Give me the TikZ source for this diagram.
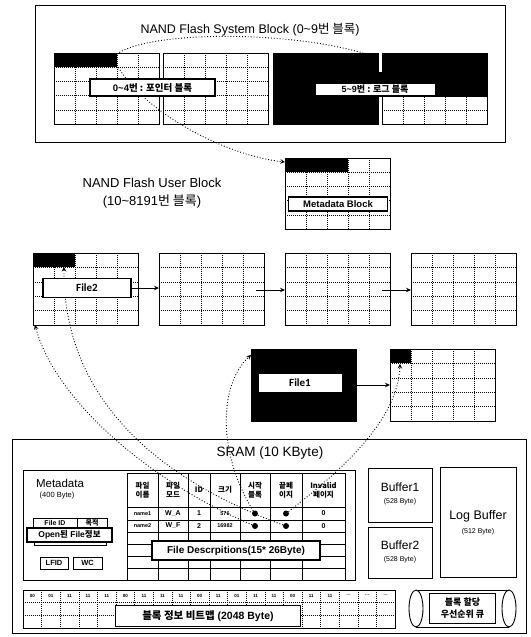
\documentclass[tikz,border=0pt]{standalone}
\usepackage{fontspec}
\setmainfont{Liberation Sans}
\newfontfamily\kr{Noto Sans CJK KR}
\newfontfamily\carfont{Carlito}
\usetikzlibrary{calc,arrows.meta}
\tikzset{
  blk/.style={draw, line width=0.9pt, fill=white, minimum width=105pt, minimum height=71pt, anchor=north west, inner sep=0pt, outer sep=0pt},
  gridl/.style={dash pattern=on 1pt off 1pt, line width=0.6pt},
  lab/.style={draw, line width=1.9pt, fill=white, font=\bfseries\fontsize{9.5}{11}\selectfont, inner sep=1pt, outer sep=0pt},
  thinlab/.style={draw, line width=0.7pt, fill=white, font=\bfseries\fontsize{9}{10}\selectfont, inner sep=1pt, outer sep=0pt},
  link/.style={dotted, line width=0.9pt, -{Stealth[length=4.5pt,width=4.5pt]}},
  flow/.style={line width=0.9pt, -{Stealth[length=5pt,width=4.5pt]}},
  box/.style={draw, line width=0.9pt, anchor=north west, inner sep=0pt, outer sep=0pt},
  dotn/.style={circle, fill=black, inner sep=0pt, minimum size=6pt},
  hd/.style={align=center, font=\kr\bfseries\fontsize{7.5}{8.5}\selectfont, inner sep=0pt},
  cell/.style={font=\bfseries\fontsize{5.5}{6}\selectfont, inner sep=0pt},
  cellb/.style={font=\bfseries\fontsize{7}{8}\selectfont, inner sep=0pt},
  bit/.style={font=\bfseries\fontsize{4.5}{5}\selectfont, inner sep=0pt},
  ttl/.style={font=\fontsize{12.5}{16}\selectfont, align=center},
}
\newcommand\gridlines[1]{%
  \foreach \i in {1,2,3,4}{%
    \draw[gridl] ($(#1.north west)!\i/5!(#1.north east)$) -- ($(#1.south west)!\i/5!(#1.south east)$);
    \draw[gridl] ($(#1.north west)!\i/5!(#1.south west)$) -- ($(#1.north east)!\i/5!(#1.south east)$);
  }}
\begin{document}
\begin{tikzpicture}[x=1pt,y=-1pt]
\useasboundingbox (0,0) rectangle (530,637);
\fill[white] (0,0) rectangle (530,637);

% ---------------- System block area
\node[box, minimum width=470pt, minimum height=137pt] (sysbox) at (35,5) {};
\node[ttl] (systitle) at (250,30) {NAND Flash System Block (0\textasciitilde 9{\kr 번 블록})};

\node[blk] (s1) at (54,53) {}; \gridlines{s1}
\fill (54,53) rectangle (117,67);
\node[blk] (s2) at (163,53) {}; \gridlines{s2}
\node[blk, fill=black] (s3) at (273,53) {};
\node[blk] (s4) at (382,53) {}; \gridlines{s4}
\fill (382,53) rectangle (487,96.6);
\fill (377,72) rectangle (383,97);

% ---------------- Metadata block
\node[blk] (meta) at (285,158) {}; \gridlines{meta}
\fill (285,158) rectangle (348,172.2);

\node[ttl, font=\fontsize{13}{18}\selectfont] (usertitle) at (152,193) {NAND Flash User Block\\(10\textasciitilde 8191{\kr 번 블록})};

% ---------------- User blocks
\node[blk, minimum height=72pt] (A) at (33,253) {}; \gridlines{A}
\fill (33,253) rectangle (75,267.4);
\node[blk, minimum height=72pt] (B) at (159,253) {}; \gridlines{B}
\node[blk, minimum height=72pt] (C) at (285,253) {}; \gridlines{C}
\node[blk, minimum height=72pt] (D) at (411,253) {}; \gridlines{D}

\node[blk, minimum height=72pt, fill=black] (F1) at (251,349) {};
\node[blk, minimum height=72pt] (E) at (390,349) {}; \gridlines{E}
\fill (390,349) rectangle (411,363.4);

% ---------------- SRAM
\node[box, minimum width=514pt, minimum height=194pt] (sram) at (12,439) {};
\node[font=\fontsize{13.5}{16}\selectfont] (sramt) at (270,453) {SRAM (10 KByte)};

\node[box, minimum width=332pt, minimum height=110pt] (mdbox) at (23,470) {};
\node[font=\fontsize{11.5}{13}\selectfont] (mdt) at (60,483) {Metadata};
\node[font=\fontsize{7.5}{8}\selectfont] (mds) at (57,496) {(400 Byte)};
\node[box, minimum width=44pt, minimum height=10pt, font=\bfseries\fontsize{7}{7}\selectfont] (fid) at (33,518) {File ID};
\node[box, minimum width=30pt, minimum height=10pt, font=\kr\bfseries\fontsize{7}{7}\selectfont] (mj) at (77,518) {목적};
\draw[line width=0.9pt] (34,530) rectangle (106,545);
\node[box, minimum width=28pt, minimum height=12pt, font=\bfseries\fontsize{7.5}{8}\selectfont] (lfid) at (40,557) {LFID};
\node[box, minimum width=29pt, minimum height=12pt, font=\bfseries\fontsize{7.5}{8}\selectfont] (wc) at (73,557) {WC};

% table
\draw[line width=0.9pt] (127,473) rectangle (345,580);
\foreach \x in {158,188,210,240,270,302} \draw[line width=0.8pt] (\x,473) -- (\x,580);
\foreach \y in {507,520,532,544,556,568} \draw[line width=0.8pt] (127,\y) -- (345,\y);
\node[hd] (h1) at (142.5,490) {파일\\이름};
\node[hd] (h2) at (173,490) {파일\\모드};
\node[hd] (h3) at (199,490) {ID};
\node[hd] (h4) at (225,490) {크기};
\node[hd] (h5) at (255,490) {시작\\블록};
\node[hd] (h6) at (286,490) {끝페\\이지};
\node[hd] (h7) at (323.5,490) {Invalid\\페이지};
\node[cell] (r11) at (142.5,513.5) {name1};
\node[cellb] (r12) at (173,513.5) {W\_A};
\node[cellb] (r13) at (199,513.5) {1};
\node[cell] (r14) at (225,513.5) {576};
\node[dotn] (d11) at (255,513.5) {};
\node[dotn] (d12) at (286,513.5) {};
\node[cellb] (r17) at (323.5,513.5) {0};
\node[cell] (r21) at (142.5,526) {name2};
\node[cellb] (r22) at (173,526) {W\_F};
\node[cellb] (r23) at (199,526) {2};
\node[cell] (r24) at (225,526) {16982};
\node[dotn] (d21) at (255,526) {};
\node[dotn] (d22) at (286,526) {};
\node[cellb] (r27) at (323.5,526) {0};

% buffers
\node[box, minimum width=64pt, minimum height=54pt] (buf1) at (368,468) {};
\node[font=\fontsize{12}{13}\selectfont] (buf1t) at (400,487) {Buffer1};
\node[font=\fontsize{7}{8}\selectfont] (buf1s) at (400,502) {(528 Byte)};
\node[box, minimum width=64pt, minimum height=51pt] (buf2) at (368,527) {};
\node[font=\fontsize{12}{13}\selectfont] (buf2t) at (400,545) {Buffer2};
\node[font=\fontsize{7}{8}\selectfont] (buf2s) at (400,560) {(528 Byte)};
\node[box, minimum width=76pt, minimum height=110pt] (logb) at (440,467) {};
\node[font=\fontsize{12.5}{13}\selectfont] (logt) at (478,516) {Log Buffer};
\node[font=\fontsize{7}{8}\selectfont] (logs) at (478,532) {(512 Byte)};

% bitmap
\draw[line width=0.9pt] (23,590) rectangle (395,628);
\foreach \i in {1,2,...,19} \draw[gridl] ({23+\i*18.6},590) -- ({23+\i*18.6},628);
\foreach \y in {602.7,615.3} \draw[gridl] (23,\y) -- (395,\y);
\foreach \v [count=\k from 0] in {00,01,11,11,11,00,11,11,11,00,11,01,11,11,00,11,11,\ldots,\ldots,\ldots}
  \node[bit] (bv\k) at ({23+9.3+\k*18.6},595.5) {\v};

% cylinder
\draw[line width=0.9pt] (416,590) -- (509,590);
\draw[line width=0.9pt] (416,627) -- (509,627);
\draw[line width=0.9pt, fill=white] (416,608.5) ellipse [x radius=7pt, y radius=18.5pt];
\draw[line width=0.9pt, fill=white] (509,608.5) ellipse [x radius=7pt, y radius=18.5pt];

% ---------------- links
\coordinate (a1) at ($(s1.north west)+(63,1)$);
\coordinate (a2) at ($(s3.north east)+(0,5)$);
\draw[link] (a1) .. controls (150,30) and (300,30) .. (a2);
\coordinate (a3) at ($(s1.north west)+(63,12)$);
\draw[link] (a3) .. controls (142,110) and (222,155) .. ($(meta.north west)+(0,4)$);

\draw[link] (d21) .. controls (150,482) and (55,400) .. ($(A.south west)+(2,0)$);
\draw[link] (d22) .. controls (160,480) and (63,400) .. ($(A.north west)+(31,14)$);
\draw[link] (d11) .. controls (218,455) and (218,385) .. ($(F1.north west)+(0,6)$);
\draw[link] (d12) .. controls (342,470) and (398,420) .. ($(E.north west)+(10,15)$);

% ---------------- labels
\node[lab, minimum width=125pt, minimum height=17pt] (l04) at (152.5,87.5) {0\textasciitilde 4{\kr 번 : 포인터 블록}};
\node[thinlab, minimum width=120pt, minimum height=12pt] (l59) at (375,89) {5\textasciitilde 9{\kr 번 : 로그 블록}};
\node[lab, minimum width=99pt, minimum height=14pt] (metalab) at (338,204) {Metadata Block};
\node[lab, minimum width=88pt, minimum height=19pt, font=\carfont\bfseries\fontsize{11}{12}\selectfont] (f2) at (87,288) {File2};
\node[thinlab, draw=none, minimum width=83pt, minimum height=18pt, font=\carfont\bfseries\fontsize{11}{12}\selectfont] (f1) at (300,383) {File1};
\node[lab, minimum width=85pt, minimum height=14pt, font=\bfseries\fontsize{8.5}{9}\selectfont] (open) at (69.5,535) {Open{\kr 된} File{\kr 정보}};
\node[lab, minimum width=168pt, minimum height=19pt, font=\bfseries\fontsize{10}{11}\selectfont] (fd) at (236,550.5) {File Descrpitions(15* 26Byte)};
\node[lab, minimum width=185pt, minimum height=21pt, font=\bfseries\fontsize{10.5}{12}\selectfont] (bm) at (208,616) {{\kr 블록 정보 비트맵} (2048 Byte)};
\node[lab, minimum width=66pt, minimum height=30pt, align=center, font=\kr\bfseries\fontsize{9}{12}\selectfont] (queue) at (462.5,608.5) {블록 할당\\우선순위 큐};

% ---------------- flow arrows
\draw[flow] (f2.east) -- (f2.east -| B.west);
\coordinate (bo) at ($(B.east)+(-8,1)$);
\draw[flow] (bo) -- (bo -| C.west);
\coordinate (co) at ($(C.east)+(-8,1)$);
\draw[flow] (co) -- (co -| D.west);
\draw[flow] (F1.east) -- (E.west);
\end{tikzpicture}
\end{document}
